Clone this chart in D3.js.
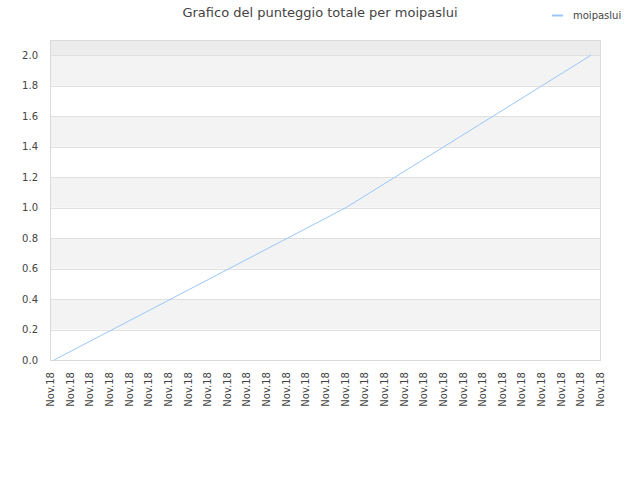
<!DOCTYPE html>
<html lang="it">
<head>
  <meta charset="UTF-8">
  <title>Grafico del punteggio totale per moipaslui</title>
  <style>
    body { margin: 0; background: #fff; }
    text { font-family: "DejaVu Sans", sans-serif; fill: #444; }
  </style>
</head>
<body>
  <svg id="grafico" width="640" height="480"></svg>

  <script src="https://d3js.org/d3.v7.min.js"></script>
  <script>
    const titolo = 'Grafico del punteggio totale per moipaslui';
    const serie = 'moipaslui';

    // punti della serie (data/ora, punteggio totale)
    const momenti = ['2018-11-01T05:00', '2018-11-16T01:40', '2018-11-28T13:00'];
    const punteggi = [0, 1, 2];

    // asse x: un tick per giorno
    const inizio = '2018-11-01T00:00';
    const fine = '2018-11-29T00:00';
    const etichettaX = 'Nov.18';

    const valoriY = [0, 0.2, 0.4, 0.6, 0.8, 1.0, 1.2, 1.4, 1.6, 1.8, 2.0];
    const massimoY = 2.1;

    const parse = d3.timeParse('%Y-%m-%dT%H:%M');
    const dati = momenti.map((m, i) => ({ t: parse(m), v: punteggi[i] }));

    const margine = { sinistra: 50, destra: 600, alto: 40, basso: 360 };
    const svg = d3.select('#grafico');

    const x = d3.scaleTime()
      .domain([parse(inizio), parse(fine)])
      .range([margine.sinistra, margine.destra]);

    const y = d3.scaleLinear()
      .domain([0, massimoY])
      .range([margine.basso, margine.alto]);

    // fasce alternate
    const fasce = valoriY.map((v, i) => ({ da: v, a: i < valoriY.length - 1 ? valoriY[i + 1] : massimoY, i }));
    svg.append('g').selectAll('rect')
      .data(fasce)
      .enter().append('rect')
      .attr('x', margine.sinistra)
      .attr('width', margine.destra - margine.sinistra)
      .attr('y', d => y(d.a))
      .attr('height', d => y(d.da) - y(d.a))
      .attr('fill', d => d.i === fasce.length - 1 ? '#ececec' : (d.i % 2 === 1 ? '#f3f3f3' : '#ffffff'));

    // griglia orizzontale
    svg.append('g').selectAll('line')
      .data(valoriY)
      .enter().append('line')
      .attr('x1', margine.sinistra)
      .attr('x2', margine.destra)
      .attr('y1', d => Math.round(y(d)) + 0.5)
      .attr('y2', d => Math.round(y(d)) + 0.5)
      .attr('stroke', '#e0e0e0');

    // cornice
    svg.append('rect')
      .attr('x', margine.sinistra + 0.5)
      .attr('y', margine.alto + 0.5)
      .attr('width', margine.destra - margine.sinistra)
      .attr('height', margine.basso - margine.alto)
      .attr('fill', 'none')
      .attr('stroke', '#dadada');

    // asse y
    const asseY = d3.axisLeft(y)
      .tickValues(valoriY)
      .tickFormat(d3.format('.1f'))
      .tickSize(0)
      .tickPadding(12);
    const gY = svg.append('g')
      .attr('transform', `translate(${margine.sinistra},0)`)
      .call(asseY);
    gY.select('.domain').remove();
    gY.selectAll('text')
      .style('font-size', '10px')
      .style('font-family', '"DejaVu Sans", sans-serif')
      .attr('fill', '#444');

    // asse x
    const asseX = d3.axisBottom(x)
      .ticks(d3.timeDay.every(1))
      .tickFormat(() => etichettaX)
      .tickSize(0);
    const gX = svg.append('g')
      .attr('transform', `translate(0,${margine.basso})`)
      .call(asseX);
    gX.select('.domain').remove();
    gX.selectAll('text')
      .style('font-size', '10px')
      .style('font-family', '"DejaVu Sans", sans-serif')
      .attr('fill', '#444')
      .attr('text-anchor', 'end')
      .attr('transform', 'rotate(-90)')
      .attr('x', -12)
      .attr('y', 0)
      .attr('dy', '0.35em');

    // linea della serie
    const linea = d3.line()
      .x(d => x(d.t))
      .y(d => y(d.v));
    svg.append('path')
      .datum(dati)
      .attr('d', linea)
      .attr('fill', 'none')
      .attr('stroke', '#9ac7f7')
      .attr('stroke-width', 1);

    // titolo
    svg.append('text')
      .attr('x', 320)
      .attr('y', 17)
      .attr('text-anchor', 'middle')
      .style('font-size', '13px')
      .text(titolo);

    // legenda
    svg.append('line')
      .attr('x1', 552)
      .attr('x2', 563)
      .attr('y1', 15.5)
      .attr('y2', 15.5)
      .attr('stroke', '#9ac7f7')
      .attr('stroke-width', 2);
    svg.append('text')
      .attr('x', 573)
      .attr('y', 19)
      .style('font-size', '10px')
      .text(serie);
  </script>
</body>
</html>
